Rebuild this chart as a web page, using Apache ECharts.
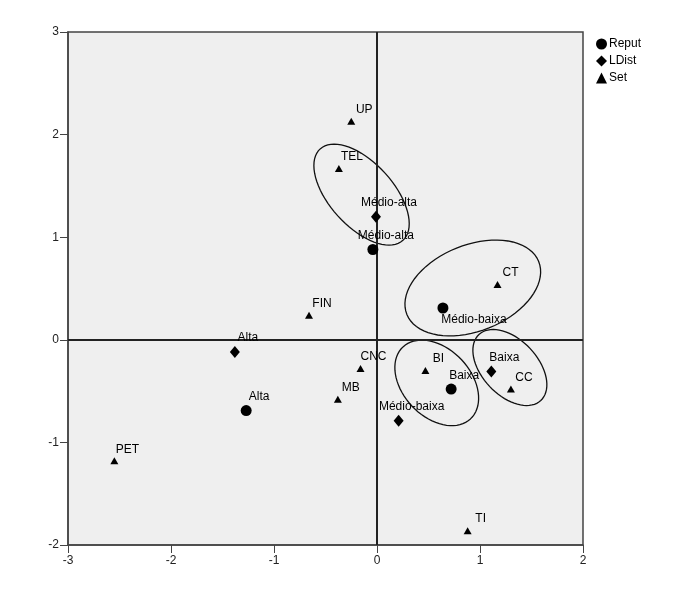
<!DOCTYPE html>
<html>
<head>
<meta charset="utf-8">
<script src="https://cdn.jsdelivr.net/npm/echarts@6/dist/echarts.min.js"></script>
<style>
  html, body { margin: 0; padding: 0; background: #fff; }
  #chart { width: 700px; height: 598px; }
</style>
</head>
<body>
<div id="chart"></div>
<script>
// categories / points: [x, y, label]
var reput = [
  [-0.04, 0.88, 'Médio-alta'],
  [0.64, 0.31, 'Médio-baixa'],
  [0.72, -0.48, 'Baixa'],
  [-1.27, -0.69, 'Alta']
]
var ldist = [
  [-0.01, 1.20, 'Médio-alta'],
  [-1.38, -0.12, 'Alta'],
  [1.11, -0.31, 'Baixa'],
  [0.21, -0.79, 'Médio-baixa']
]
var sets = [
  [-0.25, 2.13, 'UP'],
  [-0.37, 1.67, 'TEL'],
  [1.17, 0.54, 'CT'],
  [-0.66, 0.24, 'FIN'],
  [-0.16, -0.28, 'CNC'],
  [0.47, -0.30, 'BI'],
  [1.30, -0.48, 'CC'],
  [-0.38, -0.58, 'MB'],
  [-2.55, -1.18, 'PET'],
  [0.88, -1.86, 'TI']
]
// ellipses: [cx, cy, semi-major, semi-minor, angle deg]
var ellipses = [
  [-0.15, 1.415, 0.60, 0.31, -48],
  [0.93, 0.505, 0.69, 0.42, 22],
  [0.58, -0.42, 0.48, 0.33, -47],
  [1.29, -0.27, 0.44, 0.27, -47]
]
var xTicks = [-3, -2, -1, 0, 1, 2]
var yTicks = [-2, -1, 0, 1, 2, 3]

var FONT = 'Liberation Sans'

function pts(arr, below) {
  return arr.map(function (p) {
    var item = { value: [p[0], p[1]], name: p[2] }
    if (below && below.indexOf(p[2]) >= 0) {
      item.label = { position: 'bottom', offset: [31, -2] }
    }
    return item
  })
}

var labelStyle = {
  show: true,
  position: 'top',
  distance: 2,
  offset: [13, 0],
  formatter: '{b}',
  color: '#000',
  fontFamily: FONT,
  fontSize: 12
}

var chart = echarts.init(document.getElementById('chart'))
chart.setOption({
  animation: false,
  backgroundColor: '#fff',
  textStyle: { fontFamily: FONT },
  grid: {
    left: 68, right: 117, top: 32, bottom: 53,
    show: true,
    backgroundColor: '#efefef',
    borderColor: '#444',
    borderWidth: 1.5
  },
  legend: {
    orient: 'vertical',
    left: 591,
    top: 33,
    itemWidth: 11,
    itemHeight: 11,
    itemGap: 5,
    data: [
      { name: 'Reput', icon: 'circle' },
      { name: 'LDist', icon: 'diamond' },
      { name: 'Set', icon: 'triangle' }
    ],
    textStyle: { color: '#000', fontSize: 12, fontFamily: FONT, padding: [0, 0, 0, -3] }
  },
  xAxis: {
    type: 'value',
    min: xTicks[0],
    max: xTicks[xTicks.length - 1],
    interval: 1,
    splitLine: { show: false },
    axisLine: { onZero: false, lineStyle: { color: '#444', width: 1.5 } },
    axisTick: { show: true, length: 8, lineStyle: { color: '#444' } },
    axisLabel: { color: '#222', fontSize: 12, margin: 10, fontFamily: FONT }
  },
  yAxis: {
    type: 'value',
    min: yTicks[0],
    max: yTicks[yTicks.length - 1],
    interval: 1,
    splitLine: { show: false },
    axisLine: { onZero: false, lineStyle: { color: '#444', width: 1.5 } },
    axisTick: { show: true, length: 8, lineStyle: { color: '#444' } },
    axisLabel: { color: '#222', fontSize: 12, margin: 9, fontFamily: FONT }
  },
  series: [
    {
      name: 'zero',
      type: 'scatter',
      data: [],
      silent: true,
      markLine: {
        symbol: 'none',
        silent: true,
        label: { show: false },
        lineStyle: { color: '#222', width: 2, type: 'solid' },
        data: [{ xAxis: 0 }, { yAxis: 0 }]
      }
    },
    {
      name: 'ellipses',
      type: 'custom',
      silent: true,
      data: ellipses,
      renderItem: function (params, api) {
        var c = api.coord([api.value(0), api.value(1)])
        var s = api.size([1, 1])
        var a = api.value(2), b = api.value(3)
        var phi = api.value(4) * Math.PI / 180
        var points = []
        for (var i = 0; i < 72; i++) {
          var t = i / 72 * Math.PI * 2
          var ex = a * Math.cos(t), ey = b * Math.sin(t)
          var dx = ex * Math.cos(phi) - ey * Math.sin(phi)
          var dy = ex * Math.sin(phi) + ey * Math.cos(phi)
          points.push([c[0] + dx * s[0], c[1] - dy * s[1]])
        }
        return {
          type: 'polygon',
          shape: { points: points },
          style: { fill: 'none', stroke: '#111', lineWidth: 1.3 }
        }
      },
      z: 3
    },
    {
      name: 'Reput',
      type: 'scatter',
      symbol: 'circle',
      symbolSize: 11,
      itemStyle: { color: '#000', opacity: 1 },
      label: labelStyle,
      data: pts(reput, ['Médio-baixa']),
      z: 5
    },
    {
      name: 'LDist',
      type: 'scatter',
      symbol: 'diamond',
      symbolSize: [10, 12],
      itemStyle: { color: '#000', opacity: 1 },
      label: labelStyle,
      data: pts(ldist),
      z: 5
    },
    {
      name: 'Set',
      type: 'scatter',
      symbol: 'triangle',
      symbolSize: [8, 7],
      itemStyle: { color: '#000', opacity: 1 },
      label: labelStyle,
      data: pts(sets),
      z: 5
    }
  ]
})
</script>
</body>
</html>
